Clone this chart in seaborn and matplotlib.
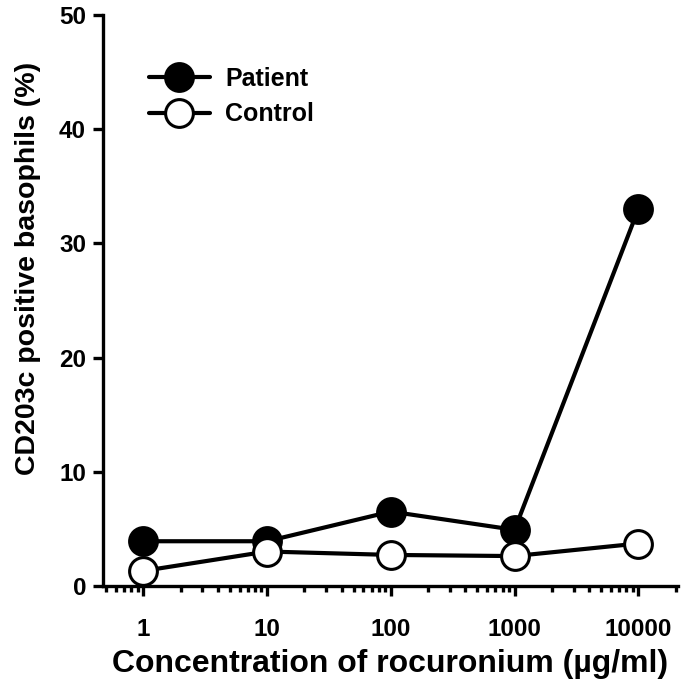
import numpy as np
import pandas as pd
import seaborn as sns
import matplotlib.pyplot as plt

# concentrations (ug/ml) and % CD203c positive basophils
conc = [1, 10, 100, 1000, 10000]
patient = [3.9, 3.9, 6.5, 4.9, 33.0]
control = [1.3, 3.0, 2.7, 2.6, 3.7]

df = pd.DataFrame({
    'conc': conc * 2,
    'value': patient + control,
    'group': ['Patient'] * len(conc) + ['Control'] * len(conc),
})

sns.set_style("ticks")
plt.rcParams['font.family'] = ['Liberation Sans', 'DejaVu Sans']
plt.rcParams['font.weight'] = 'bold'
plt.rcParams['text.color'] = 'black'
plt.rcParams['axes.labelcolor'] = 'black'
plt.rcParams['axes.edgecolor'] = 'black'
plt.rcParams['xtick.color'] = 'black'
plt.rcParams['ytick.color'] = 'black'

fig = plt.figure(figsize=(6.85, 6.94), dpi=100)
ax = fig.add_axes([0.150, 0.156, 0.840, 0.822])

common = dict(x='conc', y='value', marker='o', color='black', linewidth=3,
              markersize=20, markeredgewidth=2.2, markeredgecolor='black',
              ax=ax, legend=False, clip_on=False)
sns.lineplot(data=df[df.group == 'Patient'], markerfacecolor='black', label='Patient', **common)
sns.lineplot(data=df[df.group == 'Control'], markerfacecolor='white', label='Control', **common)

ax.set_xscale('log')
ax.set_xlim(0.47, 21000)
ax.set_ylim(0, 50)
ax.set_xticks(conc)
ax.set_xticklabels([str(c) for c in conc])
ax.set_yticks([0, 10, 20, 30, 40, 50])

sns.despine(ax=ax)
for s in ['left', 'bottom']:
    ax.spines[s].set_linewidth(2.4)
ax.tick_params(axis='both', which='major', length=7, width=2.4, labelsize=17.5, pad=5)
ax.tick_params(axis='x', which='minor', length=4, width=2.4)
ax.tick_params(axis='x', which='major', pad=16)
for lab in ax.get_xticklabels() + ax.get_yticklabels():
    lab.set_fontweight('bold')

ax.set_xlabel('Concentration of rocuronium (µg/ml)', fontsize=23, fontweight='bold', labelpad=6)
ax.set_ylabel('CD203c positive basophils (%)', fontsize=20.5, fontweight='bold')
ax.yaxis.set_label_coords(-0.108, 0.557)

handles = ax.get_lines()[:2]
leg = ax.legend(handles=handles, labels=['Patient', 'Control'], loc='upper left',
                bbox_to_anchor=(0.08, 0.909), frameon=False, handlelength=2.45,
                borderpad=0, borderaxespad=0,
                prop={'size': 18, 'weight': 'bold'}, labelspacing=0.45, handletextpad=0.6)

fig.savefig('out.png', dpi=100)
